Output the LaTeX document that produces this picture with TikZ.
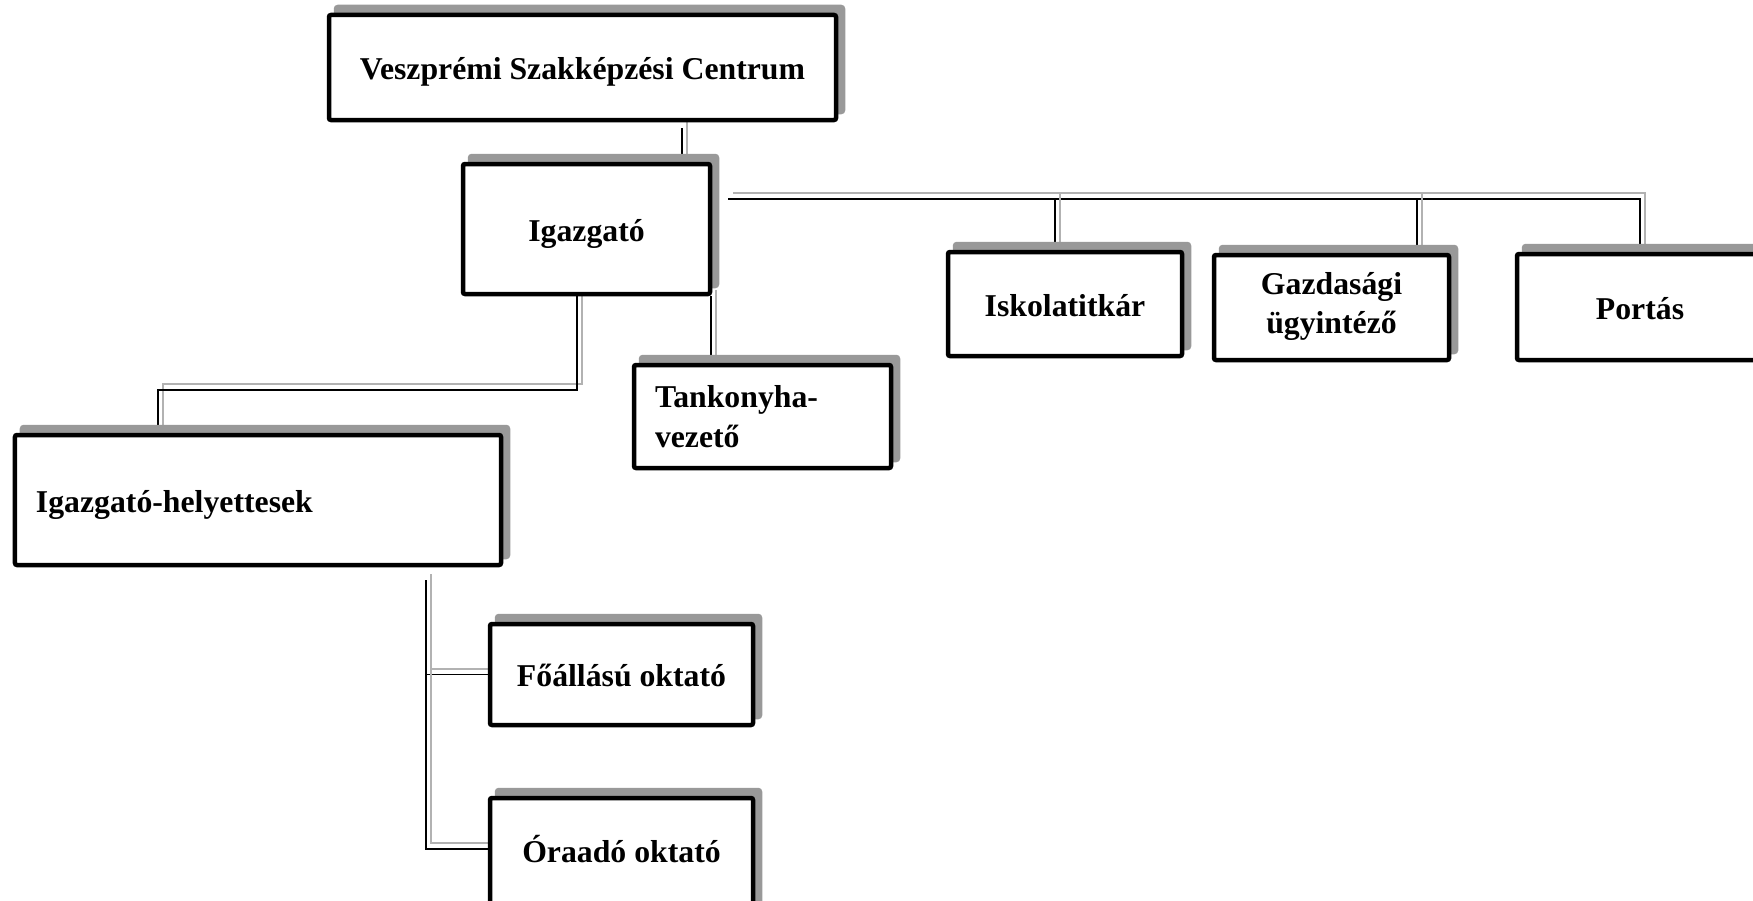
\documentclass[tikz,border=0pt]{standalone}
\usepackage{fontspec}
\setmainfont{Liberation Serif}
\usetikzlibrary{shadows,backgrounds}
\begin{document}
\begin{tikzpicture}[x=0.4pt,y=-0.4pt,font=\fontsize{12.7pt}{15.8pt}\selectfont\bfseries,
  box/.style={draw,fill=white,line width=1.8pt,rounded corners=0.8pt,inner sep=0pt,
    general shadow={fill=black!40,draw=black!40,line width=1.8pt,shadow xshift=2.8pt,shadow yshift=3.2pt}},
  oneline/.style={text height=12pt,text depth=2.4pt},
  leftbox/.style={align=left,inner xsep=8.4pt},
  link/.style={line width=0.7pt,preaction={draw=black!30,line width=0.8pt,transform canvas={shift={(2pt,2.4pt)}}}}]
\useasboundingbox (0,0) rectangle (1753,900);
\clip (0,0) rectangle (1753,900);
% boxes
\node[box,oneline,minimum width=202.8pt,minimum height=42pt] (a) at (582.5,67.5) {Veszprémi Szakképzési Centrum};
\node[box,oneline,minimum width=98.8pt,minimum height=52pt] (b) at (586.5,229) {Igazgató};
\node[box,oneline,minimum width=93.6pt,minimum height=41.6pt] (isk) at (1065,304) {Iskolatitkár};
\node[box,align=center,minimum width=94pt,minimum height=42pt,text depth=3.6pt] (gazd) at (1331.5,307.5) {Gazdasági\\ügyintéző};
\node[box,oneline,minimum width=98.4pt,minimum height=42.4pt] (portas) at (1640,307) {Portás};
\node[box,leftbox,text width=86pt,minimum height=41.2pt] (tank) at (762.5,416.5) {Tankonyha-\\vezető};
\node[box,leftbox,oneline,text width=177.6pt,minimum height=52pt] (helyettesek) at (258,500) {Igazgató-helyettesek};
\node[box,oneline,minimum width=105.2pt,minimum height=40.4pt] (foall) at (621.5,674.5) {Főállású oktató};
\node[box,minimum width=105.2pt,minimum height=48pt,text height=5.6pt,text depth=2.4pt] (oraado) at (621.5,858) {Óraadó oktató};
% lines
\coordinate (ab) at (682,128);
\coordinate (bus) at (728,199);
\coordinate (dI) at (1055,199);
\coordinate (dG) at (1417,199);
\coordinate (bt) at (711,296);
\coordinate (bh) at (577,390);
\coordinate (hh) at (158,390);
\coordinate (hv) at (426,580);
\coordinate (hb) at (426,849);
\begin{scope}[on background layer]
\draw[link] (ab) -- (b.north -| ab);
\draw[link] (bus) -| (portas.north);
\draw[link] (dI) -- (isk.north -| dI);
\draw[link] (dG) -- (gazd.north -| dG);
\draw[link] (b.south -| bt) -- (tank.north -| bt);
\draw[link] (b.south -| bh) |- (hh) -- (helyettesek.north -| hh);
\draw[link] (hv) |- (foall.west);
\draw[link] (hv) -- (hb) -- (oraado.west |- hb);
\end{scope}
\end{tikzpicture}
\end{document}
